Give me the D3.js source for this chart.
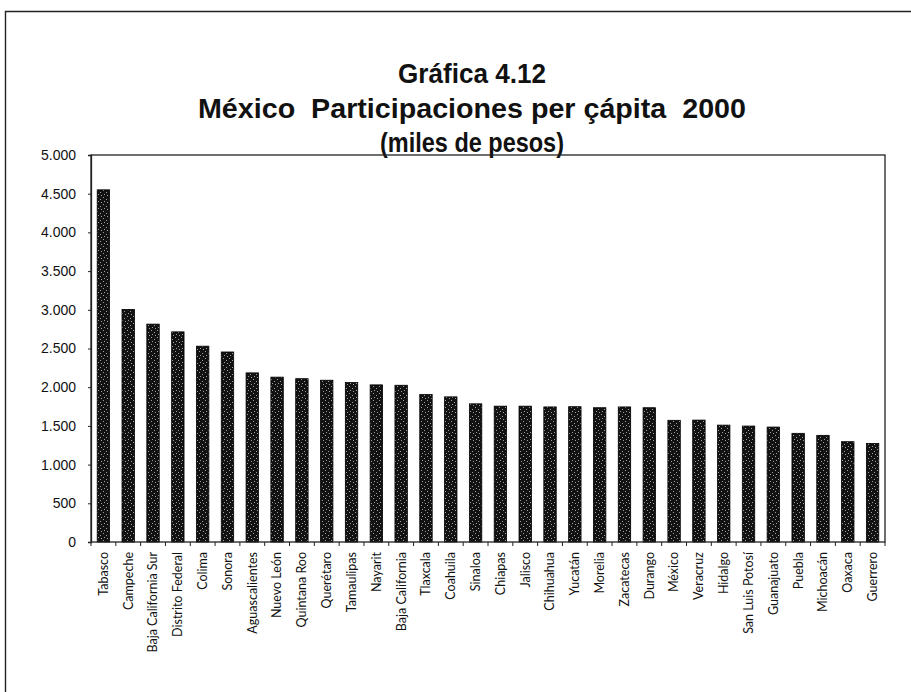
<!DOCTYPE html>
<html>
<head>
<meta charset="utf-8">
<script src="https://cdn.jsdelivr.net/npm/d3@7"></script>
<style>
  html, body { margin: 0; padding: 0; background: #fff; }
  svg { display: block; }
</style>
</head>
<body>
<svg id="chart" width="911" height="692"></svg>
<script>
// Participaciones per cápita por entidad, año 2000 (pesos)
const estados = [
  "Tabasco", "Campeche", "Baja California Sur", "Distrito Federal", "Colima",
  "Sonora", "Aguascalientes", "Nuevo León", "Quintana Roo", "Querétaro",
  "Tamaulipas", "Nayarit", "Baja California", "Tlaxcala", "Coahuila",
  "Sinaloa", "Chiapas", "Jalisco", "Chihuahua", "Yucatán", "Morelia",
  "Zacatecas", "Durango", "México", "Veracruz", "Hidalgo", "San Luis Potosí",
  "Guanajuato", "Puebla", "Michoacán", "Oaxaca", "Guerrero"
];
const participaciones = [
  4550, 3005, 2815, 2715, 2530,
  2455, 2185, 2130, 2110, 2090,
  2060, 2030, 2025, 1905, 1875,
  1785, 1755, 1755, 1745, 1748, 1735,
  1745, 1735, 1572, 1575, 1510, 1498,
  1485, 1404, 1378, 1296, 1274
];
const yTicks = [0, 500, 1000, 1500, 2000, 2500, 3000, 3500, 4000, 4500, 5000];
const titleLines = [
  "Gráfica 4.12",
  "México  Participaciones per çápita  2000",
  "(miles de pesos)"
];

const svg = d3.select("#chart");

// stippled fill for the bars
const defs = svg.append("defs");
const pat = defs.append("pattern")
  .attr("id", "stipple")
  .attr("patternUnits", "userSpaceOnUse")
  .attr("width", 6).attr("height", 7);
pat.append("rect").attr("width", 6).attr("height", 7).attr("fill", "#121212");
[[1, 1], [4, 3], [2, 5], [5, 6]].forEach(([cx, cy]) => {
  pat.append("rect").attr("x", cx).attr("y", cy)
    .attr("width", 1).attr("height", 1).attr("fill", "#a0a0a0");
});

// outer frame
svg.append("path")
  .attr("d", "M5.5,692 L5.5,11.5 L911,11.5")
  .attr("fill", "none").attr("stroke", "#222").attr("stroke-width", 1.4);

// title (double spaces kept)
const titleY = [83, 118, 152];
const titleW = [148, 548, 184];
svg.append("g").selectAll("text").data(titleLines).join("text")
  .attr("x", 472)
  .attr("y", (d, i) => titleY[i])
  .attr("text-anchor", "middle")
  .attr("textLength", (d, i) => titleW[i])
  .attr("lengthAdjust", "spacingAndGlyphs")
  .style("white-space", "pre")
  .style("font-family", "'Liberation Sans', Arial, sans-serif")
  .style("font-weight", "bold")
  .style("font-size", "28px")
  .attr("fill", "#111")
  .text(d => d);

// plot area
const plotL = 91, plotR = 885, plotT = 155, plotB = 542;

const x = d3.scaleBand()
  .domain(estados)
  .range([plotL, plotR])
  .paddingInner(0.5)
  .paddingOuter(0.25);

const y = d3.scaleLinear()
  .domain([0, 5000])
  .range([plotB, plotT]);

// bars
svg.append("g").selectAll("rect").data(estados).join("rect")
  .attr("x", d => x(d))
  .attr("width", x.bandwidth())
  .attr("y", (d, i) => y(participaciones[i]))
  .attr("height", (d, i) => y(0) - y(participaciones[i]))
  .attr("fill", "url(#stipple)")
  .attr("stroke", "#000")
  .attr("stroke-width", 0.8);

// plot box
svg.append("rect")
  .attr("x", plotL).attr("y", plotT)
  .attr("width", plotR - plotL).attr("height", plotB - plotT)
  .attr("fill", "none").attr("stroke", "#222").attr("stroke-width", 1.3);

// y axis
const fmt = d3.formatLocale({ decimal: ",", thousands: ".", grouping: [3] }).format(",.0f");
const yAxis = svg.append("g")
  .attr("transform", `translate(${plotL},0)`)
  .call(d3.axisLeft(y).tickValues(yTicks).tickSize(3).tickPadding(12).tickFormat(fmt));
yAxis.select(".domain").attr("stroke", "#222").attr("stroke-width", 1.3);
yAxis.selectAll(".tick line").attr("stroke", "#222");
yAxis.selectAll("text")
  .style("font-family", "'Liberation Sans', Arial, sans-serif")
  .style("font-size", "14px")
  .attr("fill", "#111");

// x axis: ticks between categories, labels rotated
const xAxis = svg.append("g")
  .attr("transform", `translate(0,${plotB})`)
  .call(d3.axisBottom(x).tickSize(0).tickPadding(0));
xAxis.select(".domain").remove();
xAxis.selectAll(".tick text")
  .attr("transform", "rotate(-90)")
  .attr("x", -10)
  .attr("y", 0)
  .attr("dy", "0.35em")
  .attr("text-anchor", "end")
  .style("font-family", "Lato, 'Open Sans', sans-serif")
  .style("font-size", "12.5px")
  .attr("fill", "#111");

const step = x.step();
const boundaries = d3.range(estados.length + 1).map(i => x(estados[0]) - x.paddingInner() * step / 2 + i * step);
svg.append("g").selectAll("line").data(boundaries).join("line")
  .attr("x1", d => d).attr("x2", d => d)
  .attr("y1", plotB).attr("y2", plotB + 4)
  .attr("stroke", "#222").attr("stroke-width", 1);
</script>
</body>
</html>
